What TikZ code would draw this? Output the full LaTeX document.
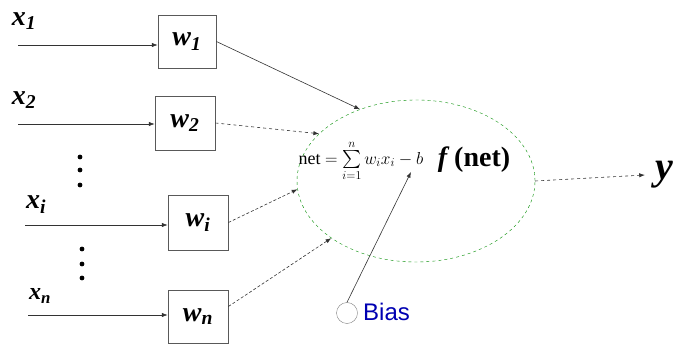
\documentclass[tikz,border=0pt]{standalone}
\usepackage{amsmath,amssymb}
\usepackage{fontspec}
\setmainfont{Liberation Serif}
\setsansfont{Liberation Sans}
\usetikzlibrary{arrows.meta,shapes.geometric}

\newcommand{\bvar}[2]{\textbf{\textit{#1}}\textsubscript{\textbf{\textit{#2}}}}

\tikzset{
	wbox/.style={draw=gray!70!black, thick, minimum width=60, minimum height=54, inner sep=0pt, font=\fontsize{28}{30}\selectfont},
	lbl/.style={font=\fontsize{28}{30}\selectfont, inner sep=0pt},
	link/.style={->, gray!40!black, semithick}
}

\begin{document}
\begin{tikzpicture}[x=1pt, y=1pt, >={Latex[length=2mm]}]
	\useasboundingbox (0,0) rectangle (676,345);
	% weight boxes
	\node[wbox, minimum width=58, minimum height=53] (w1) at (187,303.5) {\bvar{w}{1}};
	\node[wbox] (w2) at (185,222) {\bvar{w}{2}};
	\node[wbox, minimum height=55] (wi) at (198,122.5) {\bvar{w}{i}};
	\node[wbox, minimum height=53] (wn) at (198,28.5) {\bvar{w}{n}};
	% inputs
	\coordinate (in1) at (18,300);
	\coordinate (in2) at (18,221);
	\coordinate (ini) at (25,120);
	\coordinate (inn) at (28,30);
	\node[lbl] (x1) at (24,324) {\bvar{x}{1}};
	\node[lbl] (x2) at (24,245) {\bvar{x}{2}};
	\node[lbl] (xi) at (36,140) {\bvar{x}{i}};
	\node[lbl, font=\fontsize{24}{26}\selectfont] (xn) at (40,49) {\bvar{x}{n}};
	\draw[link] (in1) -- (in1 -| w1.west);
	\draw[link] (in2) -- (in2 -| w2.west);
	\draw[link] (ini) -- (ini -| wi.west);
	\draw[link] (inn) -- (inn -| wn.west);
	\foreach \yy in {188,175,160} \fill (80,\yy) circle (2.4);
	\foreach \yy in {96,81,67} \fill (82,\yy) circle (2.4);
	% neuron
	\node[draw=green!55!black, dashed, ellipse, minimum width=238, minimum height=162] (neuron) at (416,164) {};
	\node[inner sep=0pt, font=\fontsize{18}{20}\selectfont] (net) at (361,184) {net $=\sum\limits_{i=1}^{n} w_i x_i - b$};
	\node[inner sep=0pt, font=\bfseries\fontsize{28}{30}\selectfont] (fnet) at (474,185) {\textit{f}\,(net)};
	\coordinate (bsum) at (411,173);
	\draw[link] (w1.east) -- (neuron.128);
	\draw[link, dashed] (w2.east) -- (neuron.154);
	\draw[link, densely dashed] (wi.east) -- (neuron.184);
	\draw[link, densely dashed] ([yshift=10]wn.east) -- (neuron.214);
	% bias
	\node[draw=gray, circle, minimum size=21, inner sep=0pt] (bias) at (347,32) {};
	\node[anchor=west, inner sep=0pt, text=blue!70!black, font=\sffamily\fontsize{24}{26}\selectfont] (biaslbl) at (363,33) {Bias};
	\draw[link] (bias.north) -- (bsum);
	% output
	\node[inner sep=0pt, font=\bfseries\itshape\fontsize{40}{42}\selectfont] (y) at (664,170) {y};
	\draw[link, dashed] (neuron.east) -- ([xshift=-10]y.west);
\end{tikzpicture}
\end{document}
